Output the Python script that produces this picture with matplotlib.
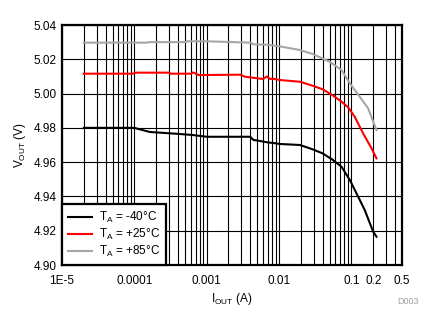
import matplotlib
matplotlib.use("Agg")
import matplotlib.pyplot as plt
from matplotlib.ticker import FixedLocator, NullFormatter

plt.rcParams['font.family'] = ['Liberation Sans', 'DejaVu Sans']
plt.rcParams['mathtext.fontset'] = 'custom'
plt.rcParams['mathtext.rm'] = 'Liberation Sans'

# Data
i_m40 = [2e-5, 1e-4, 1.3e-4, 1.64e-4, 4.3e-4, 6.5e-4, 1e-3, 4e-3, 4.4e-3, 6e-3, 7e-3, 8.2e-3,
         0.0103, 0.0194, 0.029, 0.040, 0.055, 0.073, 0.095, 0.124, 0.153, 0.18, 0.2, 0.222]
v_m40 = [4.9800, 4.9800, 4.9787, 4.9776, 4.9764, 4.9758, 4.9748, 4.9748, 4.9730, 4.9720, 4.9715, 4.9712,
         4.9706, 4.9700, 4.9675, 4.9651, 4.9614, 4.9573, 4.9496, 4.9398, 4.9320, 4.9243, 4.9194, 4.9165]

i_p25 = [2e-5, 9.5e-5, 1.05e-4, 3e-4, 3.2e-4, 6e-4, 6.45e-4, 7.8e-4, 2.9e-3, 3.4e-3, 6e-3, 6.8e-3,
         7.5e-3, 8.2e-3, 0.0103, 0.0194, 0.029, 0.040, 0.055, 0.073, 0.090, 0.111, 0.145, 0.19, 0.222]
v_p25 = [5.0116, 5.0116, 5.0122, 5.0122, 5.0116, 5.0116, 5.0123, 5.0108, 5.0110, 5.0098, 5.0085, 5.0100,
         5.0085, 5.0087, 5.0079, 5.0069, 5.0046, 5.0025, 4.9990, 4.9953, 4.9920, 4.9865, 4.9768, 4.9680, 4.9622]

i_p85 = [2e-5, 1.5e-4, 1.6e-4, 5e-4, 5.5e-4, 1e-3, 4e-3, 4.5e-3, 7e-3, 0.0103, 0.0194, 0.029,
         0.050, 0.073, 0.095, 0.131, 0.170, 0.222]
v_p85 = [5.0297, 5.0297, 5.0300, 5.0300, 5.0305, 5.0305, 5.0297, 5.0287, 5.0285, 5.0275, 5.0254, 5.0231,
         5.0186, 5.0137, 5.0060, 4.9980, 4.9914, 4.9787]

series_labels = [r'T$_\mathregular{A}$ = -40°C', r'T$_\mathregular{A}$ = +25°C', r'T$_\mathregular{A}$ = +85°C']
series_colors = ['#000000', '#ff0000', '#a6a6a6']

x_ticks = [1e-5, 1e-4, 1e-3, 1e-2, 0.1, 0.2, 0.5]
x_tick_labels = ['1E-5', '0.0001', '0.001', '0.01', '0.1', '0.2', '0.5']
y_ticks = [4.90, 4.92, 4.94, 4.96, 4.98, 5.00, 5.02, 5.04]

fig = plt.figure(figsize=(4.35, 3.27), dpi=100)
ax = fig.add_axes([62/435, 62/327, 340/435, 240/327])

for xs, ys, lab, col in zip([i_m40, i_p25, i_p85], [v_m40, v_p25, v_p85], series_labels, series_colors):
    ax.plot(xs, ys, color=col, lw=1.5, label=lab, zorder=3)

ax.set_xscale('log')
ax.set_xlim(1e-5, 0.5)
ax.set_ylim(4.90, 5.04)

minor = []
for e in range(-5, 0):
    for m in range(2, 10):
        v = m * 10.0**e
        if v < 0.5:
            minor.append(v)
ax.xaxis.set_major_locator(FixedLocator(x_ticks))
ax.set_xticklabels(x_tick_labels)
ax.xaxis.set_minor_locator(FixedLocator(minor))
ax.xaxis.set_minor_formatter(NullFormatter())
ax.set_yticks(y_ticks)
ax.set_yticklabels([f'{v:.2f}' for v in y_ticks])

ax.grid(True, which='major', color='black', lw=0.8, zorder=1)
ax.grid(True, which='minor', axis='x', color='black', lw=0.8, zorder=1)
ax.tick_params(axis='both', which='both', length=0, labelsize=8.5, colors='black')
ax.tick_params(axis='x', pad=7)
ax.tick_params(axis='y', pad=4)
for s in ax.spines.values():
    s.set_linewidth(1.6)
    s.set_color('black')
    s.set_zorder(4)

ax.set_xlabel(r'I$_\mathregular{OUT}$ (A)', fontsize=8.5, labelpad=3)
ax.set_ylabel(r'V$_\mathregular{OUT}$ (V)', fontsize=8.5, labelpad=4)

leg = ax.legend(loc='lower left', fontsize=8.5, frameon=True, fancybox=False,
                borderaxespad=0, handlelength=2.0, handletextpad=0.6,
                labelspacing=0.15, borderpad=0.5)
leg.get_frame().set_edgecolor('black')
leg.get_frame().set_linewidth(1.6)
leg.get_frame().set_alpha(1)
leg.set_zorder(5)

fig.text(408/435, 1 - 301/327, 'D003', fontsize=6.5, color='#a0a0a0', ha='center', va='center')

fig.savefig('out.png', dpi=100)
